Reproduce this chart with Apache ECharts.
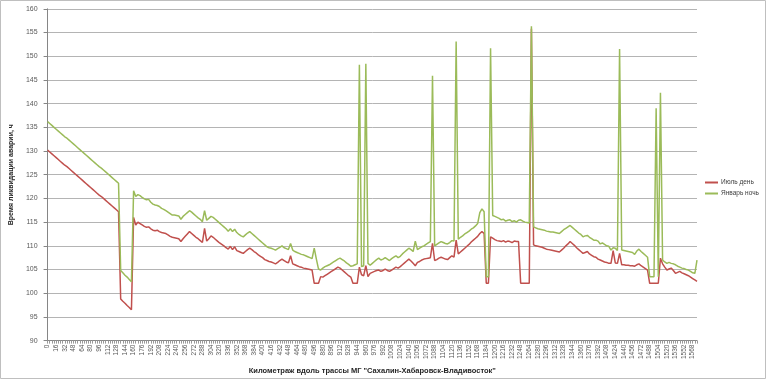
<!DOCTYPE html>
<html>
<head>
<meta charset="utf-8">
<script src="https://cdn.jsdelivr.net/npm/echarts@6/dist/echarts.min.js"></script>
<style>
html,body{margin:0;padding:0;background:#fff;}
#chart{width:766px;height:380px;}
</style>
</head>
<body>
<div id="chart"></div>
<script>
// Category axis: km marks along the pipeline (step 4 km, two stretches as labelled in the source)
const kmStretches = [[0, 508], [880, 1576]];
const kmStep = 4;
const categories = [];
kmStretches.forEach(([a, b]) => { for (let k = a; k <= b; k += kmStep) categories.push(String(k)); });

const yTicks = {min: 90, max: 160, interval: 5};

const seriesNames = ['Июль день', 'Январь ночь'];

const julyDay = [
130.2,129.8,129.4,129.0,128.6,128.2,127.8,127.4,127.0,126.7,126.3,125.9,125.5,125.1,124.7,124.3,123.9,123.5,123.1,122.7,122.3,121.9,121.5,121.1,120.7,120.4,120.0,119.6,119.2,118.8,118.4,118.0,117.6,117.2,
98.8,98.3,97.9,97.4,97.0,96.5,
116.0,114.4,115.0,114.7,114.4,114.1,113.9,114.0,113.6,113.3,
113.2,113.3,113.0,112.8,112.7,112.6,112.3,112.0,111.8,111.7,
111.6,111.5,110.9,111.5,112.0,112.5,113.0,112.6,112.2,111.8,
111.5,111.1,110.7,113.7,111.0,111.5,112.1,111.8,111.4,111.0,
110.6,110.3,110.0,109.6,109.3,109.9,109.2,109.8,109.0,108.8,
108.6,108.4,108.8,109.2,109.5,109.2,108.8,108.5,108.1,107.8,
107.5,107.1,106.9,106.7,106.6,106.4,106.2,106.5,106.9,107.2,
106.9,106.6,106.4,107.9,106.2,106.0,105.8,105.6,105.5,105.3,
105.2,105.1,105.0,104.9,102.1,102.1,102.1,103.5,
103.4,103.7,104.0,104.3,104.6,104.9,105.2,105.5,105.3,104.9,
104.5,104.1,103.7,103.4,102.1,102.1,102.1,105.5,103.9,103.7,
105.8,103.5,104.2,104.4,104.6,104.8,104.9,104.6,104.8,105.1,
104.8,104.6,104.9,105.2,105.5,105.3,105.6,106.0,106.4,106.8,
107.2,106.8,106.3,105.8,106.5,106.7,107.0,107.2,107.3,107.4,
107.5,110.5,106.9,107.1,107.4,107.6,107.4,107.2,107.1,107.5,
107.9,107.6,111.2,108.3,108.7,109.1,109.5,109.9,110.3,110.8,
111.2,111.6,112.0,112.6,113.0,112.6,102.1,102.1,111.9,111.6,
111.3,111.1,111.0,110.9,111.1,110.8,111.0,110.9,110.7,111.0,
110.9,110.9,102.1,102.1,102.1,102.1,102.1,155.8,110.2,110.0,
109.9,109.8,109.7,109.5,109.3,109.2,109.1,109.0,108.9,108.8,
108.7,109.1,109.5,110.0,110.4,110.9,110.5,110.1,109.6,109.2,
108.8,108.4,108.6,108.8,108.3,108.0,107.7,107.6,107.2,107.0,
106.8,106.6,106.5,106.3,106.3,109.0,106.4,106.3,108.4,106.0,
106.0,105.9,105.9,105.8,105.8,105.7,106.0,106.2,105.8,105.5,
105.2,104.9,102.1,102.1,102.1,102.1,102.1,107.4,106.2,105.5,
104.9,105.1,105.3,104.8,104.2,104.4,104.6,104.3,104.1,103.9,
103.7,103.4,103.1,102.8,102.5
];

const januaryNight = [
136.2,135.8,135.4,135.0,134.6,134.2,133.8,133.4,133.0,132.7,132.3,131.9,131.5,131.1,130.7,130.3,129.9,129.5,129.1,128.7,128.3,127.9,127.5,127.1,126.7,126.4,126.0,125.6,125.2,124.8,124.4,124.0,123.6,123.2,
104.8,104.3,103.8,103.4,102.9,102.4,
121.6,120.4,120.8,120.6,120.2,119.9,119.7,119.8,119.2,118.8,
118.6,118.5,118.3,117.9,117.7,117.4,117.1,116.8,116.5,116.5,
116.4,116.3,115.6,116.2,116.6,117.0,117.4,117.1,116.7,116.3,
115.9,115.6,115.1,117.4,115.4,115.8,116.2,116.0,115.6,115.2,
114.8,114.4,114.0,113.6,113.1,113.6,113.0,113.5,112.8,112.4,
112.1,111.9,112.3,112.7,113.0,112.6,112.2,111.8,111.4,111.0,
110.6,110.2,109.8,109.6,109.5,109.3,109.1,109.4,109.7,110.0,
109.6,109.4,109.2,110.5,109.1,108.8,108.6,108.4,108.2,108.1,
107.9,107.7,107.5,107.3,109.5,107.2,105.1,104.9,
105.3,105.6,105.8,106.0,106.3,106.6,106.9,107.2,107.4,107.1,
106.8,106.4,106.1,105.7,105.8,106.0,106.2,148.2,105.6,105.8,
148.4,106.3,105.9,106.3,106.7,107.1,107.4,107.0,107.2,107.5,
107.2,106.9,107.3,107.6,107.9,107.5,107.8,108.3,108.7,109.1,
109.5,109.2,108.8,111.0,109.2,109.5,109.8,110.0,110.3,110.6,
110.9,145.9,110.0,110.3,110.6,110.9,110.7,110.5,110.4,110.7,
111.1,111.0,153.1,111.4,111.8,112.1,112.5,112.8,113.1,113.5,
113.8,114.2,114.7,117.0,117.8,117.2,103.5,103.5,151.7,116.4,
116.2,116.0,115.8,115.5,115.6,115.2,115.4,115.5,115.1,115.3,
115.0,115.4,115.5,115.2,115.0,114.9,114.8,156.3,114.0,113.8,
113.6,113.5,113.4,113.3,113.1,113.0,112.9,112.9,112.8,112.7,
112.6,113.0,113.4,113.7,114.0,114.3,113.9,113.5,113.1,112.7,
112.4,111.9,112.1,112.2,111.8,111.5,111.2,111.2,111.0,110.4,
110.6,110.3,110.0,109.9,109.1,109.6,109.5,109.0,151.5,109.1,
109.0,108.9,108.8,108.7,108.6,108.2,108.9,109.3,108.8,108.4,
108.0,107.6,103.5,103.5,103.5,139.0,103.5,142.3,107.0,106.6,
106.3,106.5,106.3,106.2,106.0,105.7,105.5,105.3,105.2,105.0,
104.9,104.6,104.3,104.2,107.0
];

const chart = echarts.init(document.getElementById('chart'), null, {renderer: 'canvas'});
const font = 'Liberation Sans, Arial, sans-serif';
chart.setOption({
  animation: false,
  backgroundColor: '#ffffff',
  graphic: [{
    type: 'rect', shape: {x: 0.5, y: 0.5, width: 765, height: 378},
    style: {fill: 'none', stroke: '#bfbfbf', lineWidth: 1}, silent: true
  }],
  grid: {left: 37.7, right: 69, top: 8.8, bottom: 39.3, containLabel: false},
  legend: {
    orient: 'vertical', left: 705, top: 179, itemGap: 4, padding: 0,
    itemWidth: 13, itemHeight: 2, icon: 'rect',
    textStyle: {fontSize: 6.5, color: '#404040', fontFamily: font, padding: [0, 0, 0, -2]},
    data: seriesNames
  },
  xAxis: {
    type: 'category', data: categories, boundaryGap: false,
    name: 'Километраж вдоль трассы МГ "Сахалин-Хабаровск-Владивосток"',
    nameLocation: 'middle', nameGap: 23,
    nameTextStyle: {fontSize: 7.5, fontWeight: 'bold', color: '#262626', fontFamily: font},
    axisLine: {lineStyle: {color: '#868686', width: 1}},
    axisTick: {show: true, interval: 0, length: 3, lineStyle: {color: '#9a9a9a'}},
    axisLabel: {interval: 3, rotate: 90, fontSize: 6.5, color: '#595959', margin: 4, fontFamily: font},
    splitLine: {show: false}
  },
  yAxis: {
    type: 'value', min: yTicks.min, max: yTicks.max, interval: yTicks.interval,
    name: 'Время ликвидации аварии, ч', nameLocation: 'middle', nameGap: 22, nameRotate: 90,
    nameTextStyle: {fontSize: 7, fontWeight: 'bold', color: '#262626', fontFamily: font},
    axisLine: {show: true, lineStyle: {color: '#868686', width: 1}},
    axisTick: {show: true, length: 4, lineStyle: {color: '#868686'}},
    axisLabel: {fontSize: 7, color: '#595959', margin: 10, fontFamily: font},
    splitLine: {show: true, lineStyle: {color: '#b4b4b4', width: 1}}
  },
  series: [
    {name: seriesNames[0], type: 'line', data: julyDay, showSymbol: false, symbol: 'none',
     lineStyle: {color: '#C0504D', width: 1.5}, itemStyle: {color: '#C0504D'}},
    {name: seriesNames[1], type: 'line', data: januaryNight, showSymbol: false, symbol: 'none',
     lineStyle: {color: '#9BBB59', width: 1.5}, itemStyle: {color: '#9BBB59'}}
  ]
});
</script>
</body>
</html>
